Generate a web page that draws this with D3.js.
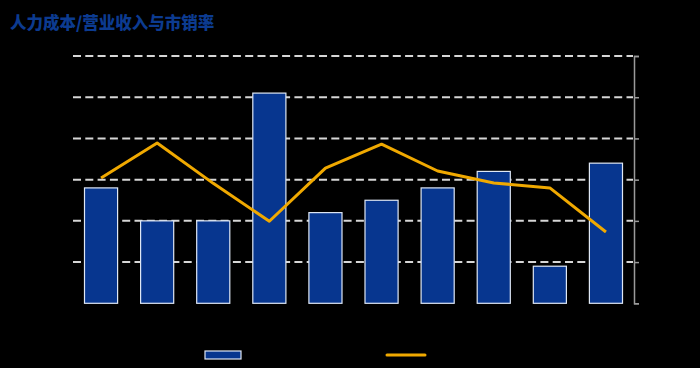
<!DOCTYPE html>
<html>
<head>
<meta charset="utf-8">
<script src="https://cdn.jsdelivr.net/npm/d3@7"></script>
<style>
  html, body { margin: 0; padding: 0; background: #000; }
  svg { display: block; font-family: "Noto Sans CJK SC", "Noto Sans", sans-serif; }
</style>
</head>
<body>
<div class="chart"></div>
<script>
// data
var categories = ["1", "2", "3", "4", "5", "6", "7", "8", "9", "10"];
var costRatio = [14, 10, 10, 25.5, 11, 12.5, 14, 16, 4.5, 17];      // 人力成本/营业收入 (%)
var psRatio = [3.04, 3.89, 2.91, 1.99, 3.28, 3.86, 3.21, 2.92, 2.8, 1.73]; // 市销率
var leftTicks = [0, 5, 10, 15, 20, 25, 30];
var rightTicks = [0, 1, 2, 3, 4, 5, 6];
var seriesNames = ["人力成本/营业收入", "市销率"];

var width = 700;
var height = 368;
var plotLeft = 73, plotRight = 634, plotTop = 56, plotBottom = 303.3;

var svg = d3.select(".chart").append("svg")
  .attr("width", width)
  .attr("height", height);

svg.append("rect")
  .attr("width", width)
  .attr("height", height)
  .attr("fill", "#000");

svg.append("text")
  .attr("x", 10)
  .attr("y", 29)
  .attr("fill", "#0c3b90")
  .attr("font-size", 16.5)
  .attr("font-weight", 900)
  .text("人力成本/营业收入与市销率");

var x = d3.scaleBand()
  .domain(categories)
  .range([plotLeft, plotRight])
  .paddingInner(0.41)
  .paddingOuter(0.205);

var y = d3.scaleLinear()
  .domain([0, 30])
  .range([plotBottom, plotTop]);

var y2 = d3.scaleLinear()
  .domain([0, 6])
  .range([plotBottom, plotTop]);

// dashed grid
svg.append("g")
  .selectAll("line")
  .data(leftTicks.slice(1))
  .join("line")
  .attr("x1", plotLeft)
  .attr("x2", plotRight - 1)
  .attr("y1", d => y(d))
  .attr("y2", d => y(d))
  .attr("stroke", "#d6d6d6")
  .attr("stroke-width", 2)
  .attr("stroke-dasharray", "8,4.3");

// left axis labels (black on black, like the reference)
var yAxisGroup = svg.append("g")
  .attr("transform", "translate(" + plotLeft + ",0)");
yAxisGroup.call(d3.axisLeft(y).tickValues(leftTicks).tickFormat(d => d + "%").tickSize(0));
yAxisGroup.select(".domain").remove();
yAxisGroup.selectAll("text").attr("fill", "#000").attr("font-size", 11);

// bars
svg.append("g")
  .selectAll("rect")
  .data(costRatio)
  .join("rect")
  .attr("x", (d, i) => x(categories[i]))
  .attr("y", d => y(d))
  .attr("width", x.bandwidth())
  .attr("height", d => y(0) - y(d))
  .attr("fill", "#07368f")
  .attr("stroke", "#dfe8f5")
  .attr("stroke-width", 1.2);

// x axis labels
var xAxisGroup = svg.append("g")
  .attr("transform", "translate(0," + plotBottom + ")");
xAxisGroup.call(d3.axisBottom(x).tickSize(0));
xAxisGroup.select(".domain").remove();
xAxisGroup.selectAll("text").attr("fill", "#000").attr("font-size", 11);

// right axis
var y2AxisGroup = svg.append("g")
  .attr("transform", "translate(" + plotRight + ",0)");
y2AxisGroup.call(d3.axisRight(y2).tickValues(rightTicks).tickSize(5).tickSizeOuter(5));
y2AxisGroup.select(".domain").attr("stroke", "#9a9a9a").attr("stroke-width", 1.5);
y2AxisGroup.selectAll(".tick line").attr("stroke", "#9a9a9a").attr("stroke-width", 1.5);
y2AxisGroup.selectAll("text").attr("fill", "#000").attr("font-size", 11);

// line
var line = d3.line()
  .x((d, i) => x(categories[i]) + x.bandwidth() / 2)
  .y(d => y2(d));

svg.append("path")
  .datum(psRatio)
  .attr("fill", "none")
  .attr("stroke", "#f0a900")
  .attr("stroke-width", 3)
  .attr("stroke-linejoin", "round")
  .attr("d", line);

// legend
var legend = svg.append("g");
legend.append("rect")
  .attr("x", 205)
  .attr("y", 351)
  .attr("width", 36)
  .attr("height", 8)
  .attr("fill", "#07368f")
  .attr("stroke", "#dfe8f5")
  .attr("stroke-width", 1.2);
legend.append("text")
  .attr("x", 247)
  .attr("y", 359)
  .attr("fill", "#000")
  .attr("font-size", 11)
  .text(seriesNames[0]);
legend.append("line")
  .attr("x1", 387)
  .attr("x2", 425)
  .attr("y1", 355)
  .attr("y2", 355)
  .attr("stroke", "#f0a900")
  .attr("stroke-width", 3)
  .attr("stroke-linecap", "round");
legend.append("text")
  .attr("x", 431)
  .attr("y", 359)
  .attr("fill", "#000")
  .attr("font-size", 11)
  .text(seriesNames[1]);
</script>
</body>
</html>
